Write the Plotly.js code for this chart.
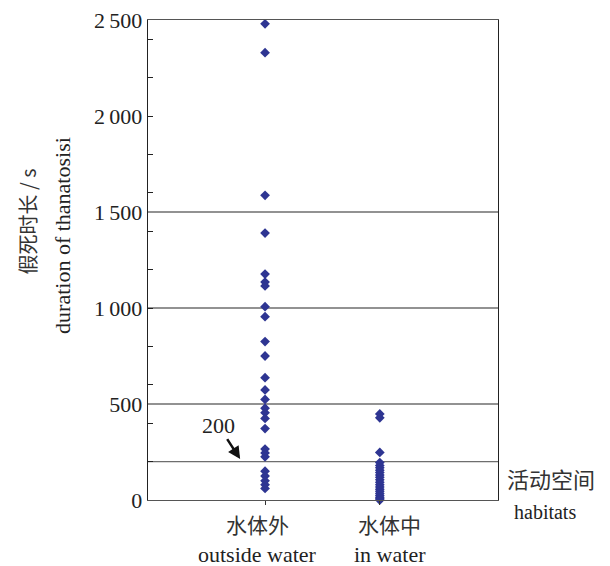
<!DOCTYPE html>
<html>
<head>
<meta charset="utf-8">
<script src="https://cdn.plot.ly/plotly-3.0.1.min.js"></script>
<style>html,body{margin:0;padding:0;background:#fff;}#chart{width:610px;height:566px;}</style>
</head>
<body>
<div id="chart"></div>
<script>
// Categories (habitats): Chinese and English names
const categoriesZh = ["水体外", "水体中"];
const categoriesEn = ["outside water", "in water"];
// Duration of thanatosis (s), outside water
const outsideWater = [2480, 2330, 1587, 1390, 1177, 1135, 1115, 1007, 955, 825, 750, 637, 573, 524, 478, 455, 425, 372, 265, 245, 225, 150, 125, 100, 80, 60];
// Duration of thanatosis (s), in water
const inWater = [448, 428, 248, 195, 180, 168, 155, 143, 130, 118, 105, 92, 80, 68, 56, 45, 34, 24, 14, 6, 0];
// Y tick labels
const yTickVals = [0, 500, 1000, 1500, 2000, 2500];
const yTickText = ["0", "500", "1\u2009000", "1\u2009500", "2\u2009000", "2\u2009500"];
const yMinorTicks = [0, 200, 400, 600, 800, 1000, 1200, 1400, 1600, 1800, 2000, 2200, 2400];
const refLines = [200, 500, 1000, 1500];
const thresholdLabel = "200";

const serif = "Liberation Serif, Times New Roman, serif";
const cjk = "Noto Sans CJK SC, sans-serif";
const markerColor = "#2e3592";
const labelShift = [-8, 10];

const traces = [
  {x: outsideWater.map(() => 0), y: outsideWater, type: "scatter", mode: "markers",
   marker: {symbol: "diamond", size: 7.5, color: markerColor}, cliponaxis: false, showlegend: false},
  {x: inWater.map(() => 1), y: inWater, type: "scatter", mode: "markers",
   marker: {symbol: "diamond", size: 7.5, color: markerColor}, cliponaxis: false, showlegend: false},
  {x: [0], y: [0], yaxis: "y2", type: "scatter", mode: "markers", marker: {opacity: 0}, showlegend: false, hoverinfo: "skip"}
];

const shapes = refLines.map(v => ({type: "line", xref: "paper", x0: 0, x1: 1, yref: "y", y0: v, y1: v,
  line: {color: "#6e6e6e", width: 1.3}, layer: "below"}));

const annotations = [
  {xref: "paper", yref: "paper", x: -0.343, y: 0.58, text: "假死时长 / s", textangle: -90, showarrow: false,
   xanchor: "center", yanchor: "middle", font: {family: cjk, size: 20, color: "#333"}},
  {xref: "paper", yref: "paper", x: -0.246, y: 0.552, text: "duration of thanatosisi", textangle: -90, showarrow: false,
   xanchor: "center", yanchor: "middle", font: {family: serif, size: 22, color: "#222"}},
  {xref: "paper", yref: "paper", x: 1.02, y: 0.046, text: "活动空间", showarrow: false,
   xanchor: "left", yanchor: "middle", font: {family: cjk, size: 22, color: "#333"}},
  {xref: "paper", yref: "paper", x: 1.04, y: -0.025, text: "habitats", showarrow: false,
   xanchor: "left", yanchor: "middle", font: {family: serif, size: 20, color: "#222"}},
  {xref: "x", yref: "y", x: -0.217, y: 213, text: thresholdLabel, showarrow: true,
   ax: -22, ay: -34, arrowhead: 2, arrowsize: 1, arrowwidth: 2.5, arrowcolor: "#111",
   font: {family: serif, size: 22, color: "#222"}}
];
categoriesZh.forEach((t, i) => annotations.push({xref: "x", yref: "paper", x: i, y: -0.05, xshift: labelShift[i],
  text: t, showarrow: false, xanchor: "center", yanchor: "middle", font: {family: cjk, size: 21, color: "#333"}}));
categoriesEn.forEach((t, i) => annotations.push({xref: "x", yref: "paper", x: i, y: -0.1125, xshift: labelShift[i],
  text: t, showarrow: false, xanchor: "center", yanchor: "middle", font: {family: serif, size: 22, color: "#222"}}));

const layout = {
  width: 610, height: 566,
  margin: {l: 148, r: 112, t: 20, b: 66},
  paper_bgcolor: "#fff", plot_bgcolor: "#fff",
  showlegend: false,
  font: {family: serif, color: "#222", size: 18},
  xaxis: {range: [-1.02, 2.03], tickvals: [0, 1], showticklabels: false,
    showgrid: false, zeroline: false, showline: true, linecolor: "#555", linewidth: 1.3, mirror: true,
    ticks: "outside", ticklen: 4, tickcolor: "#333", fixedrange: true},
  yaxis: {range: [0, 2500], tickvals: yTickVals, ticktext: yTickText, ticks: "",
    showgrid: false, zeroline: false, showline: true, linecolor: "#222", linewidth: 1.3, mirror: true,
    tickfont: {family: serif, size: 22, color: "#222"}, fixedrange: true},
  yaxis2: {range: [0, 2500], overlaying: "y", side: "left", tickvals: yMinorTicks, showticklabels: false,
    ticks: "inside", ticklen: 5, tickcolor: "#222", showgrid: false, zeroline: false, showline: false, fixedrange: true},
  shapes: shapes,
  annotations: annotations
};

Plotly.newPlot("chart", traces, layout, {displayModeBar: false, staticPlot: true});
</script>
</body>
</html>
